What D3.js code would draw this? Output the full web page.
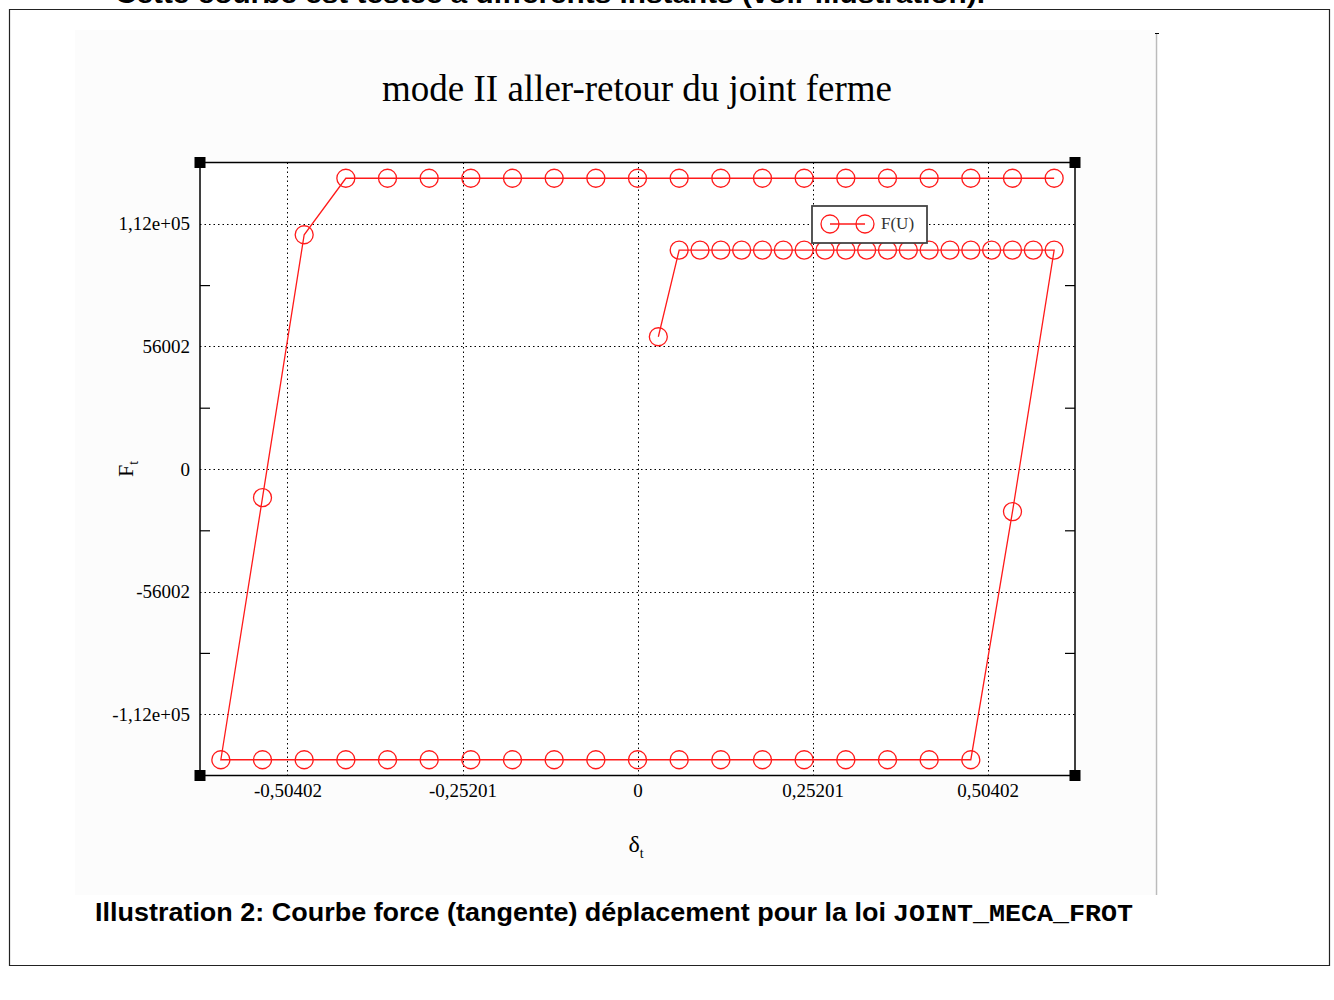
<!DOCTYPE html>
<html>
<head>
<meta charset="utf-8">
<script src="https://cdn.jsdelivr.net/npm/d3@7"></script>
<style>
  html, body { margin: 0; padding: 0; background: #fff; }
  svg { display: block; }
</style>
</head>
<body>
<svg id="chart" width="1334" height="1000"></svg>
<script>
// ---- data ----
const titleText = "mode II aller-retour du joint ferme";
const seriesName = "F(U)";
// displacement (delta_t) in path order
const deltaValues = [
  0.03, 0.06, 0.09, 0.12, 0.15, 0.18, 0.21, 0.24, 0.27, 0.30,
  0.33, 0.36, 0.39, 0.42, 0.45, 0.48, 0.51, 0.54, 0.57, 0.60,
  0.54, 0.48, 0.42, 0.36, 0.30, 0.24, 0.18, 0.12, 0.06, 0.00,
  -0.06, -0.12, -0.18, -0.24, -0.30, -0.36, -0.42, -0.48, -0.54, -0.60,
  -0.54, -0.48, -0.42, -0.36, -0.30, -0.24, -0.18, -0.12, -0.06, 0.00,
  0.06, 0.12, 0.18, 0.24, 0.30, 0.36, 0.42, 0.48, 0.54, 0.60
];
// tangential force (F_t) in path order
const forceValues = [
  60400, 100000, 100000, 100000, 100000, 100000, 100000, 100000, 100000, 100000,
  100000, 100000, 100000, 100000, 100000, 100000, 100000, 100000, 100000, 100000,
  -19500, -132800, -132800, -132800, -132800, -132800, -132800, -132800, -132800, -132800,
  -132800, -132800, -132800, -132800, -132800, -132800, -132800, -132800, -132800, -132800,
  -13100, 107000, 132800, 132800, 132800, 132800, 132800, 132800, 132800, 132800,
  132800, 132800, 132800, 132800, 132800, 132800, 132800, 132800, 132800, 132800
];
const xTickValues = [-0.50402, -0.25201, 0, 0.25201, 0.50402];
const xTickLabels = ["-0,50402", "-0,25201", "0", "0,25201", "0,50402"];
const yTickValues = [-112004, -56002, 0, 56002, 112004];
const yTickLabels = ["-1,12e+05", "-56002", "0", "56002", "1,12e+05"];
const yMinorTicks = [-84003, -28001, 28001, 84003];
const xDomain = [-0.630025, 0.630025];
const yDomain = [-140005, 140005];

const topText = "Cette courbe est testée à différents instants (voir illustration).";
const captionText = "Illustration 2: Courbe force (tangente) déplacement pour la loi ";
const captionCode = "JOINT_MECA_FROT";

// ---- drawing ----
const svg = d3.select("#chart");
const serif = "'Liberation Serif', 'DejaVu Serif', serif";
const sans = "'Liberation Sans', Arial, sans-serif";
const mono = "'Liberation Mono', 'Courier New', monospace";

// page frame (text above is cut by the page edge, as in the source document)
svg.append("text").attr("x", 115).attr("y", 3)
  .attr("font-family", sans).attr("font-weight", "bold").attr("font-size", 26)
  .attr("textLength", 870).attr("lengthAdjust", "spacingAndGlyphs")
  .attr("fill", "#000").text(topText);
const frame = svg.append("g").attr("stroke", "#222").attr("stroke-width", 1.2);
frame.append("line").attr("x1", 9).attr("x2", 1330).attr("y1", 9.5).attr("y2", 9.5);
frame.append("line").attr("x1", 9.5).attr("x2", 9.5).attr("y1", 9).attr("y2", 966);
frame.append("line").attr("x1", 1329.5).attr("x2", 1329.5).attr("y1", 9).attr("y2", 966);
frame.append("line").attr("x1", 9).attr("x2", 1330).attr("y1", 965.5).attr("y2", 965.5);

// image background
svg.append("rect").attr("x", 75).attr("y", 30).attr("width", 1080).attr("height", 865)
  .attr("fill", "#fcfcfc");
svg.append("line").attr("x1", 1156.5).attr("x2", 1156.5).attr("y1", 33).attr("y2", 895)
  .attr("stroke", "#bbb").attr("stroke-width", 1.5);
svg.append("line").attr("x1", 1155).attr("x2", 1159).attr("y1", 33.5).attr("y2", 33.5)
  .attr("stroke", "#000").attr("stroke-width", 1);

// scales
const x = d3.scaleLinear().domain(xDomain).range([200, 1075]);
const y = d3.scaleLinear().domain(yDomain).range([775.5, 162.5]);
const [L, R] = x.range();
const [B, T] = y.range();

// plot background
svg.append("rect").attr("x", L).attr("y", T).attr("width", R - L).attr("height", B - T)
  .attr("fill", "#fff");

// title
svg.append("text").attr("x", 637).attr("y", 101).attr("text-anchor", "middle")
  .attr("font-family", serif).attr("font-size", 37).attr("fill", "#000").text(titleText);

// grid
const grid = svg.append("g").attr("stroke", "#000").attr("stroke-width", 1)
  .attr("stroke-dasharray", "1.5,3");
grid.selectAll("line.gx").data(xTickValues).join("line").attr("class", "gx")
  .attr("x1", d => Math.round(x(d)) + 0.5).attr("x2", d => Math.round(x(d)) + 0.5)
  .attr("y1", T).attr("y2", B);
grid.selectAll("line.gy").data(yTickValues).join("line").attr("class", "gy")
  .attr("y1", d => Math.round(y(d)) + 0.5).attr("y2", d => Math.round(y(d)) + 0.5)
  .attr("x1", L).attr("x2", R);

// axes (labels)
const yAxis = d3.axisLeft(y).tickValues(yTickValues)
  .tickFormat((d, i) => yTickLabels[i]).tickSize(0).tickPadding(10);
const gy = svg.append("g").attr("transform", `translate(${L},0)`).call(yAxis);
gy.select(".domain").remove();
gy.selectAll("text").attr("font-family", serif).attr("font-size", 19).attr("fill", "#000");

const xAxis = d3.axisBottom(x).tickValues(xTickValues)
  .tickFormat((d, i) => xTickLabels[i]).tickSize(0).tickPadding(8);
const gx = svg.append("g").attr("transform", `translate(0,${B})`).call(xAxis);
gx.select(".domain").remove();
gx.selectAll("text").attr("font-family", serif).attr("font-size", 19).attr("fill", "#000");

// minor ticks on y (left & right)
const gyl = svg.append("g").attr("transform", `translate(${L},0)`)
  .call(d3.axisLeft(y).tickValues(yMinorTicks).tickSize(-10).tickFormat(""));
gyl.select(".domain").remove();
const gyr = svg.append("g").attr("transform", `translate(${R},0)`)
  .call(d3.axisRight(y).tickValues(yMinorTicks).tickSize(-10).tickFormat(""));
gyr.select(".domain").remove();
svg.selectAll(".tick line").attr("stroke", "#000").attr("stroke-width", 1.2);

// frame
svg.append("rect").attr("x", L).attr("y", T).attr("width", R - L).attr("height", B - T)
  .attr("fill", "none").attr("stroke", "#000").attr("stroke-width", 1.5);
// corner markers
const corners = [[L, T], [R, T], [L, B], [R, B]];
svg.selectAll("rect.corner").data(corners).join("rect").attr("class", "corner")
  .attr("x", d => d[0] - 5.5).attr("y", d => d[1] - 5.5)
  .attr("width", 11).attr("height", 11).attr("fill", "#000");

// series
const pts = deltaValues.map((d, i) => [d, forceValues[i]]);
const line = d3.line().x(d => x(d[0])).y(d => y(d[1]));
svg.append("path").datum(pts).attr("d", line).attr("fill", "none")
  .attr("stroke", "#ff1a1a").attr("stroke-width", 1.3);
svg.selectAll("circle.pt").data(pts).join("circle").attr("class", "pt")
  .attr("cx", d => x(d[0])).attr("cy", d => y(d[1])).attr("r", 9)
  .attr("fill", "none").attr("stroke", "#ff1a1a").attr("stroke-width", 1.3);

// axis titles
const ft = svg.append("text").attr("transform", "translate(133,469) rotate(-90)")
  .attr("text-anchor", "middle").attr("font-family", serif).attr("font-size", 22).attr("fill", "#000");
ft.append("tspan").text("F");
ft.append("tspan").attr("font-size", 14).attr("dy", 5).text("t");
const dt = svg.append("text").attr("x", 636).attr("y", 852)
  .attr("text-anchor", "middle").attr("font-family", serif).attr("font-size", 24).attr("fill", "#000");
dt.append("tspan").text("δ");
dt.append("tspan").attr("font-size", 14).attr("dy", 6).text("t");

// legend
const lg = svg.append("g");
lg.append("rect").attr("x", 812).attr("y", 206).attr("width", 115).attr("height", 37)
  .attr("fill", "#fff").attr("stroke", "#444").attr("stroke-width", 1.8);
lg.append("line").attr("x1", 830).attr("x2", 865).attr("y1", 224).attr("y2", 224)
  .attr("stroke", "#ff1a1a").attr("stroke-width", 1.3);
lg.selectAll("circle").data([830, 865]).join("circle")
  .attr("cx", d => d).attr("cy", 224).attr("r", 9)
  .attr("fill", "none").attr("stroke", "#ff1a1a").attr("stroke-width", 1.3);
lg.append("text").attr("x", 881).attr("y", 229).attr("font-family", serif)
  .attr("font-size", 17).attr("fill", "#333").text(seriesName);

// caption
svg.append("text").attr("x", 95).attr("y", 921)
  .attr("font-family", sans).attr("font-weight", "bold").attr("font-size", 26)
  .attr("textLength", 791).attr("lengthAdjust", "spacingAndGlyphs")
  .attr("fill", "#000").text(captionText);
svg.append("text").attr("x", 893).attr("y", 921)
  .attr("font-family", mono).attr("font-weight", "bold").attr("font-size", 24)
  .attr("textLength", 240).attr("lengthAdjust", "spacingAndGlyphs")
  .attr("fill", "#000").text(captionCode);
</script>
</body>
</html>
